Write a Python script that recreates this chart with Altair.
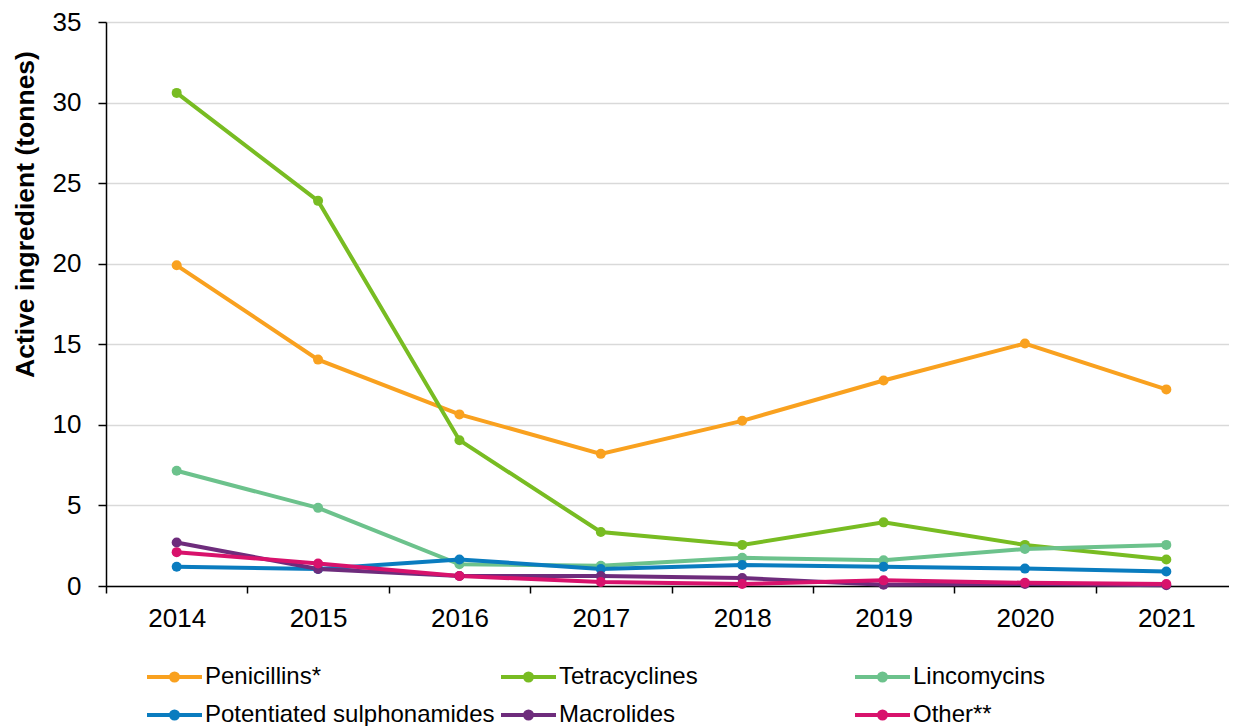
import altair as alt
import pandas as pd

years = ["2014", "2015", "2016", "2017", "2018", "2019", "2020", "2021"]
series_names = ["Penicillins*", "Tetracyclines", "Lincomycins",
                "Potentiated sulphonamides", "Macrolides", "Other**"]
penicillins = [19.9, 14.05, 10.65, 8.2, 10.25, 12.75, 15.05, 12.2]
tetracyclines = [30.6, 23.9, 9.05, 3.35, 2.55, 3.95, 2.55, 1.65]
lincomycins = [7.15, 4.85, 1.35, 1.25, 1.75, 1.6, 2.3, 2.55]
potentiated = [1.2, 1.05, 1.65, 1.05, 1.3, 1.2, 1.08, 0.9]
macrolides = [2.7, 1.05, 0.62, 0.62, 0.5, 0.08, 0.12, 0.05]
other = [2.1, 1.4, 0.62, 0.25, 0.12, 0.35, 0.2, 0.12]
colors = ["#F9A11F", "#78BC22", "#6CC28C", "#0A7CBF", "#6E2C7C", "#D8126C"]
y_ticks = [0, 5, 10, 15, 20, 25, 30, 35]

values = [penicillins, tetracyclines, lincomycins, potentiated, macrolides, other]
rows = []
for i, (name, vals) in enumerate(zip(series_names, values)):
    for y, v in zip(years, vals):
        rows.append({"Year": y, "Series": name, "Value": v, "order": i})
df = pd.DataFrame(rows)

FONT = "Liberation Sans"
legend_symbol = "M-1,0L4.5,0M2.1,0A0.35,0.35,0,1,1,1.4,0A0.35,0.35,0,1,1,2.1,0Z"

chart = alt.Chart(df).mark_line(
    strokeWidth=4,
    point=alt.OverlayMarkDef(size=100, filled=True, opacity=1),
).encode(
    x=alt.X("Year:O", sort=years,
            scale=alt.Scale(type="band", paddingInner=0, paddingOuter=0, range=[0, 1131]),
            axis=alt.Axis(title=None, labelAngle=0, labelFontSize=26, labelFont=FONT,
                          labelColor="black", tickBand="extent", tickSize=7,
                          tickColor="black", tickWidth=1.5, domainColor="black",
                          domainWidth=1.5, labelPadding=12, grid=False)),
    y=alt.Y("Value:Q", scale=alt.Scale(domain=[0, 35], nice=False),
            axis=alt.Axis(title="Active ingredient (tonnes)", values=y_ticks,
                          labelFontSize=26, labelFont=FONT, labelColor="black",
                          titleFontSize=26.5, titleFont=FONT, titleFontWeight="bold",
                          titleColor="black", titleX=-81, titleY=192,
                          titleAlign="center", titleBaseline="middle",
                          tickSize=8, tickColor="black", tickWidth=1.5,
                          domainColor="black", domainWidth=1.5, labelPadding=17,
                          gridColor="#D9D9D9", gridWidth=1.5)),
    color=alt.Color("Series:N", sort=series_names,
                    scale=alt.Scale(domain=series_names, range=colors),
                    legend=alt.Legend(title=None, orient="none", legendX=39, legendY=643,
                                      direction="horizontal",
                                      columns=3, gridAlign="all", symbolType=legend_symbol,
                                      symbolSize=400, symbolStrokeWidth=4,
                                      labelFontSize=24, labelFont=FONT, labelColor="black",
                                      labelOffset=36, columnPadding=-2, rowPadding=14,
                                      padding=0, labelLimit=400)),
    order=alt.Order("order:Q"),
    detail="Series:N",
).properties(
    width=1123, height=564,
    autosize=alt.AutoSizeParams(type="none"),
    padding={"left": 98, "top": 14, "right": 0, "bottom": 140},
).configure_view(stroke=None)

chart.save("out.html", embed_options={"renderer": "svg", "actions": False})
